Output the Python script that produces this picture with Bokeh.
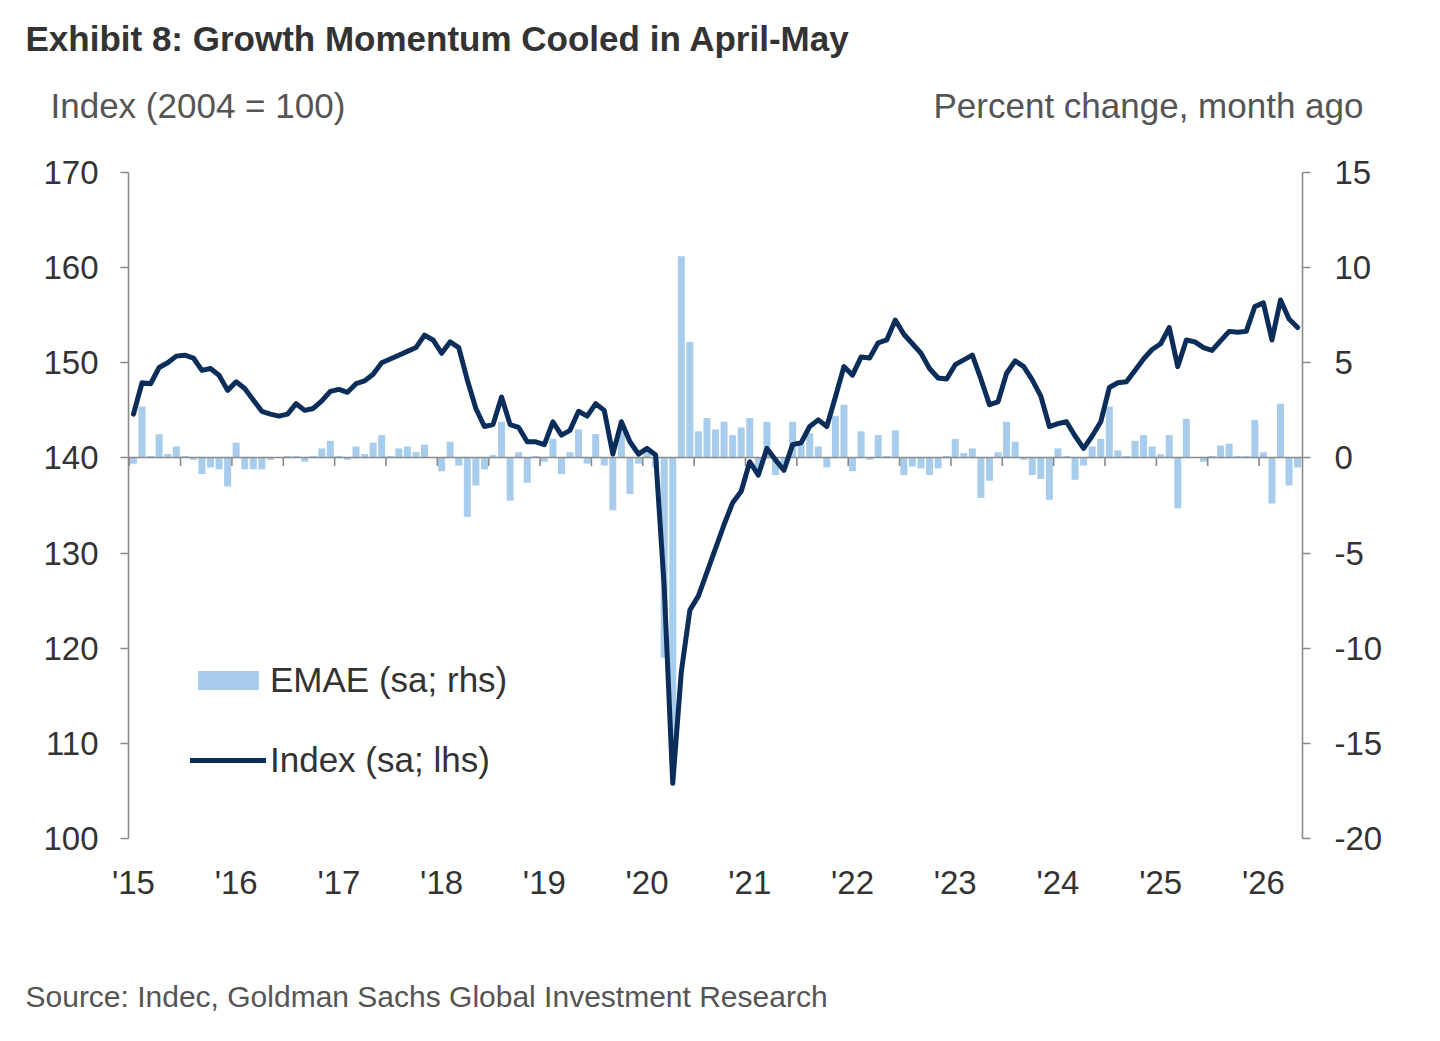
from bokeh.plotting import figure
from bokeh.layouts import column
from bokeh.models import Range1d, LinearAxis, FixedTicker, Label, Legend, LegendItem, ColumnDataSource
from bokeh.embed import file_html
from bokeh.resources import INLINE

# ---------------- data ----------------
start_year = 2015
n_months = 137  # Jan 2015 .. May 2026
months = [f"{start_year + i // 12}-{i % 12 + 1:02d}" for i in range(n_months)]

index_sa = [
    144.6, 147.9, 147.8, 149.5, 150.0, 150.7, 150.8, 150.5, 149.2, 149.4, 148.7, 147.1,   # 2015
    148.0, 147.3, 146.1, 144.9, 144.6, 144.4, 144.6, 145.7, 145.0, 145.2, 146.0, 147.0,   # 2016
    147.2, 146.9, 147.8, 148.1, 148.8, 150.0, 150.4, 150.8, 151.2, 151.6, 152.9, 152.4,   # 2017
    151.0, 152.2, 151.6, 148.2, 145.2, 143.3, 143.5, 146.4, 143.5, 143.2, 141.7, 141.7,   # 2018
    141.4, 143.8, 142.4, 142.9, 144.9, 144.4, 145.7, 145.0, 140.4, 143.8, 141.7, 140.4,   # 2019
    141.0, 140.3, 126.5, 105.8, 117.5, 124.0, 125.5, 128.0, 130.5, 133.0, 135.3, 136.5,   # 2020
    139.6, 138.2, 141.0, 139.8, 138.7, 141.4, 141.6, 143.3, 144.0, 143.3, 146.4, 149.6,   # 2021
    148.7, 150.6, 150.5, 152.1, 152.4, 154.5, 153.0, 152.0, 151.0, 149.4, 148.4, 148.3,   # 2022
    149.8, 150.3, 150.8, 148.3, 145.6, 145.9, 148.9, 150.2, 149.6, 148.2, 146.5, 143.3,   # 2023
    143.6, 143.8, 142.3, 141.0, 142.3, 143.8, 147.4, 147.9, 148.0, 149.2, 150.4, 151.4,   # 2024
    152.0, 153.7, 149.6, 152.4, 152.2, 151.6, 151.3, 152.3, 153.3, 153.2, 153.3, 155.9,   # 2025
    156.3, 152.4, 156.6, 154.6, 153.7,                                                   # 2026
]

emae_mom = [
    -0.3, 2.7, 0.1, 1.25, 0.2, 0.6, 0.1, -0.1, -0.85, -0.5, -0.6, -1.5,                   # 2015
    0.8, -0.6, -0.6, -0.6, -0.1, 0.0, 0.1, 0.1, -0.2, 0.1, 0.5, 0.9,                      # 2016
    0.1, -0.1, 0.6, 0.2, 0.8, 1.2, 0.1, 0.5, 0.6, 0.3, 0.7, 0.0,                          # 2017
    -0.7, 0.85, -0.4, -3.1, -1.45, -0.6, 0.15, 1.9, -2.25, 0.3, -1.3, 0.1,                # 2018
    -0.2, 1.0, -0.85, 0.3, 1.5, -0.3, 1.25, -0.4, -2.75, 1.5, -1.9, -0.3,                 # 2019
    0.3, -0.5, -10.5, -16.0, 10.6, 6.1, 1.4, 2.1, 1.5, 1.9, 1.2, 1.6,                     # 2020
    2.1, -0.7, 1.9, -0.9, -0.3, 1.9, 0.7, 1.3, 0.6, -0.5, 2.2, 2.8,                       # 2021
    -0.7, 1.4, -0.1, 1.2, 0.1, 1.45, -0.9, -0.45, -0.55, -0.9, -0.55, 0.1,                # 2022
    1.0, 0.25, 0.5, -2.1, -1.2, 0.3, 1.9, 0.85, -0.1, -0.9, -1.1, -2.2,                   # 2023
    0.5, 0.1, -1.15, -0.4, 0.6, 1.0, 2.7, 0.4, 0.1, 0.9, 1.2, 0.6,                        # 2024
    0.2, 1.2, -2.65, 2.05, 0.0, -0.2, 0.1, 0.65, 0.75, 0.1, 0.1, 2.0,                     # 2025
    0.3, -2.4, 2.85, -1.45, -0.5,                                                         # 2026
]

year_labels = ["'15", "'16", "'17", "'18", "'19", "'20", "'21", "'22", "'23", "'24", "'25", "'26"]
left_ticks = [100, 110, 120, 130, 140, 150, 160, 170]
right_ticks = [-20, -15, -10, -5, 0, 5, 10, 15]

title_text = "Exhibit 8: Growth Momentum Cooled in April-May"
lhs_title = "Index (2004 = 100)"
rhs_title = "Percent change, month ago"
source_text = "Source: Indec, Goldman Sachs Global Investment Research"

# ---------------- layout constants ----------------
FONT = "Liberation Sans"
W, H = 1440, 1041
HEAD_H, FOOT_TOP = 140, 930
FL, FR, FT, FB = 128, 1302, 172, 838   # frame edges in page px


def text_panel(height, top):
    f = figure(width=W, height=height, output_backend="svg", toolbar_location=None,
               x_range=Range1d(0, W), y_range=Range1d(top + height, top),
               x_axis_type=None, y_axis_type=None, title=None,
               min_border=0, min_border_left=0, min_border_right=0,
               min_border_top=0, min_border_bottom=0)
    f.frame_align = False
    f.outline_line_color = None
    f.grid.visible = False
    f.background_fill_color = "white"
    f.border_fill_color = "white"
    return f


def put(f, text, px, py, size, align="left", bold=False, color="#333333"):
    f.add_layout(Label(x=px, y=py, text=text, text_align=align, text_baseline="middle",
                       text_font=FONT, text_font_size=size, text_color=color,
                       text_font_style="bold" if bold else "normal"))


# header
head = text_panel(HEAD_H, 0)
put(head, title_text, 25, 38, "35px", bold=True, color="#333333")
put(head, lhs_title, 50, 105, "35px", color="#555555")
put(head, rhs_title, 1363, 105, "35px", align="right", color="#555555")

# footer
foot = text_panel(H - FOOT_TOP, FOOT_TOP)
put(foot, source_text, 25, 996, "30px", color="#555555")

# ---------------- main chart ----------------
x = list(range(n_months))
src = ColumnDataSource(dict(x=x, month=months, idx=index_sa, mom=emae_mom))

p = figure(width=W, height=FOOT_TOP - HEAD_H, output_backend="svg", toolbar_location=None,
           x_range=Range1d(-0.58, 136.57), y_range=Range1d(100, 170), title=None,
           min_border_left=FL, min_border_right=W - FR,
           min_border_top=FT - HEAD_H, min_border_bottom=FOOT_TOP - FB)
p.frame_align = False
p.extra_y_ranges = {"rhs": Range1d(-20, 15)}
p.outline_line_color = None
p.grid.visible = False
p.background_fill_color = "white"
p.border_fill_color = "white"

# bars (rhs)
bars = p.vbar(x="x", top="mom", bottom=0, width=0.82, source=src, y_range_name="rhs",
              fill_color="#a8cdec", line_color=None)

# zero line with half-year ticks
p.hspan(y=[140], line_color="#8a8a8a", line_width=1.6)
tick_pos = [6 * k - 0.5 for k in range(23)]
p.segment(x0=tick_pos, y0=[140] * len(tick_pos), x1=tick_pos, y1=[139.15] * len(tick_pos),
          line_color="#8a8a8a", line_width=1.6)

# index line (lhs)
line = p.line(x="x", y="idx", source=src, line_color="#0b2d59", line_width=5,
              line_join="round", line_cap="round")


def style_axis(ax):
    ax.axis_line_color = "#8a8a8a"
    ax.axis_line_width = 1.6
    ax.major_tick_line_color = "#8a8a8a"
    ax.major_tick_line_width = 1.6
    ax.major_tick_out = 8
    ax.major_tick_in = 0
    ax.minor_tick_line_color = None
    ax.major_label_text_font = FONT
    ax.major_label_text_font_size = "33px"
    ax.major_label_text_color = "#333333"


ly = p.yaxis[0]
ly.ticker = FixedTicker(ticks=left_ticks)
style_axis(ly)
ly.major_label_standoff = 22

ry = LinearAxis(y_range_name="rhs", ticker=FixedTicker(ticks=right_ticks))
style_axis(ry)
ry.major_label_standoff = 24
ry.major_label_overrides = {v: str(v) for v in right_ticks}
p.add_layout(ry, "right")

bx = p.xaxis[0]
bx.ticker = FixedTicker(ticks=[12 * i for i in range(len(year_labels))])
bx.major_label_overrides = {12 * i: lab for i, lab in enumerate(year_labels)}
bx.axis_line_color = None
bx.major_tick_line_color = None
bx.minor_tick_line_color = None
bx.major_label_text_font = FONT
bx.major_label_text_font_size = "33px"
bx.major_label_text_color = "#333333"
bx.major_label_standoff = 19

legend = Legend(items=[LegendItem(label="EMAE (sa; rhs)", renderers=[bars]),
                       LegendItem(label="Index (sa; lhs)", renderers=[line])],
                location=(62, 58), orientation="vertical",
                glyph_width=76, glyph_height=24, label_standoff=4, label_height=40,
                spacing=40, padding=0, margin=0,
                label_text_font=FONT, label_text_font_size="35px", label_text_color="#333333",
                border_line_color=None, background_fill_alpha=0)
p.add_layout(legend)

layout = column(head, p, foot, spacing=0)
open("out.html", "w").write(file_html(layout, INLINE))
